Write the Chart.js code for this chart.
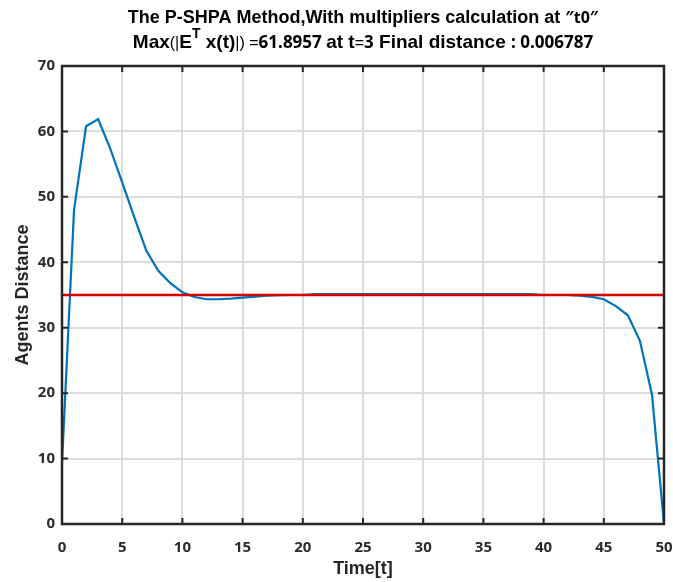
<!DOCTYPE html>
<html><head><meta charset="utf-8">
<script src="https://cdn.jsdelivr.net/npm/chart.js@4/dist/chart.umd.min.js"></script>
<style>html,body{margin:0;padding:0;background:#fff}canvas{display:block}</style>
</head><body>
<canvas id="c" width="673" height="582"></canvas>
<script>
// ---- data ----
const time = [0,1,2,3,4,5,6,7,8,9,10,11,12,13,14,15,16,17,18,19,20,21,22,23,24,25,26,27,28,29,30,31,32,33,34,35,36,37,38,39,40,41,42,43,44,45,46,47,48,49,50];
const distance = [9.3,48.0,60.8,61.8957,57.4,52.2,46.9,41.8,38.7,36.8,35.4,34.7,34.35,34.35,34.45,34.6,34.75,34.9,34.97,35.0,35.0,
  35.12,35.12,35.12,35.12,35.12,35.12,35.12,35.12,35.12,35.12,35.12,35.12,35.12,35.12,35.12,35.12,35.12,35.12,35.12,
  35.0,35.0,35.0,34.9,34.7,34.35,33.3,31.9,28.0,19.8,0.006787];
const refTime = [0, 50];
const refValue = [35, 35];
const xTicks = [0,5,10,15,20,25,30,35,40,45,50];
const yTicks = [0,10,20,30,40,50,60,70];
const xLabel = 'Time[t]';
const yLabel = 'Agents Distance';

const BIG = 'bold 18px "Liberation Sans", Arial, sans-serif';
const BIG2 = 'bold 19px "Liberation Sans", Arial, sans-serif';
const SMALL = '16px "Liberation Sans", Arial, sans-serif';
const MID = 'bold 16px "Open Sans", sans-serif';
const MID2 = 'bold 17px "Open Sans", sans-serif';
const SUP = 'bold 14px "Liberation Sans", Arial, sans-serif';
const line1 = [
  {t:'The P-SHPA Method,With multipliers calculation at ', f:BIG},
  {t:'\u2033t0\u2033', f:MID}
];
const line2 = [
  {t:'Max', f:BIG2},{t:'(|', f:SMALL},{t:'E', f:BIG2},{t:'T', f:SUP, dy:10},
  {t:' x(t)', f:BIG2},{t:'|)', f:SMALL},{t:' =', f:SMALL},{t:'61.8957 ', f:MID2},
  {t:'at t', f:BIG2},{t:'=', f:SMALL},{t:'3', f:MID2},{t:' Final distance ', f:BIG2},{t:': 0.006787', f:MID2}
];

function drawSegs(ctx, segs, cx, y){
  let total = 0;
  segs.forEach(s=>{ctx.font=s.f; s.w=ctx.measureText(s.t).width; total+=s.w;});
  let x = cx - total/2;
  ctx.textAlign = 'left';
  ctx.textBaseline = 'alphabetic';
  segs.forEach(s=>{ctx.font=s.f; ctx.fillText(s.t, x, y-(s.dy||0)); x+=s.w;});
}

const titlePlugin = {
  id:'mtitle',
  afterDraw(chart){
    const ctx = chart.ctx, a = chart.chartArea;
    const cx = (a.left + a.right)/2;
    ctx.save();
    ctx.fillStyle = '#000';
    drawSegs(ctx, line1, cx, 23);
    drawSegs(ctx, line2, cx, 48);
    ctx.restore();
  }
};

const framePlugin = {
  id:'frame',
  afterDatasetsDraw(chart){
    const ctx = chart.ctx, a = chart.chartArea, sx = chart.scales.x, sy = chart.scales.y;
    ctx.save();
    ctx.strokeStyle = '#262626';
    ctx.lineWidth = 2;
    ctx.beginPath();
    sx.ticks.forEach(t=>{const p = sx.getPixelForValue(t.value);
      ctx.moveTo(p, a.bottom); ctx.lineTo(p, a.bottom-6);
      ctx.moveTo(p, a.top); ctx.lineTo(p, a.top+6);});
    sy.ticks.forEach(t=>{const p = sy.getPixelForValue(t.value);
      ctx.moveTo(a.left, p); ctx.lineTo(a.left+6, p);
      ctx.moveTo(a.right, p); ctx.lineTo(a.right-6, p);});
    ctx.stroke();
    ctx.lineWidth = 2.5;
    ctx.strokeRect(a.left, a.top, a.right-a.left, a.bottom-a.top);
    ctx.restore();
  }
};

const tickFont = {family:'"Open Sans", sans-serif', size:15, weight:'bold'};
const titleFont = {family:'"Liberation Sans", Arial, sans-serif', size:18, weight:'bold'};

new Chart(document.getElementById('c'), {
  type:'line',
  data:{
    datasets:[
      {label:'reference', data: refTime.map((t,i)=>({x:t, y:refValue[i]})),
       borderColor:'#D20000', borderWidth:2.6, pointRadius:0, order:0},
      {label:'distance', data: time.map((t,i)=>({x:t, y:distance[i]})),
       borderColor:'#0072BD', borderWidth:2.2, pointRadius:0, tension:0, order:1}
    ]
  },
  options:{
    responsive:false, animation:false, devicePixelRatio:1,
    layout:{padding:{top:66, right:9, left:0, bottom:0}},
    plugins:{legend:{display:false}, tooltip:{enabled:false}, title:{display:false}},
    scales:{
      x:{type:'linear', min:0, max:50,
        afterBuildTicks:s=>{s.ticks = xTicks.map(v=>({value:v}));},
        afterFit:s=>{s.height = 58; s.paddingRight = 0; s.paddingLeft = 0;},
        grid:{color:'#dcdcdc', lineWidth:2, drawTicks:false},
        border:{display:false},
        ticks:{color:'#2b2b2b', font:tickFont, padding:15, maxRotation:0, autoSkip:false},
        title:{display:true, text:xLabel, color:'#262626', font:titleFont, padding:{top:0,bottom:2}}
      },
      y:{type:'linear', min:0, max:70,
        afterBuildTicks:s=>{s.ticks = yTicks.map(v=>({value:v}));},
        afterFit:s=>{s.width = 62;},
        grid:{color:'#dcdcdc', lineWidth:2, drawTicks:false},
        border:{display:false},
        ticks:{color:'#2b2b2b', font:tickFont, padding:7, autoSkip:false},
        title:{display:true, text:yLabel, color:'#262626', font:titleFont, padding:{top:12,bottom:0}}
      }
    }
  },
  plugins:[titlePlugin, framePlugin]
});
</script>
</body></html>
